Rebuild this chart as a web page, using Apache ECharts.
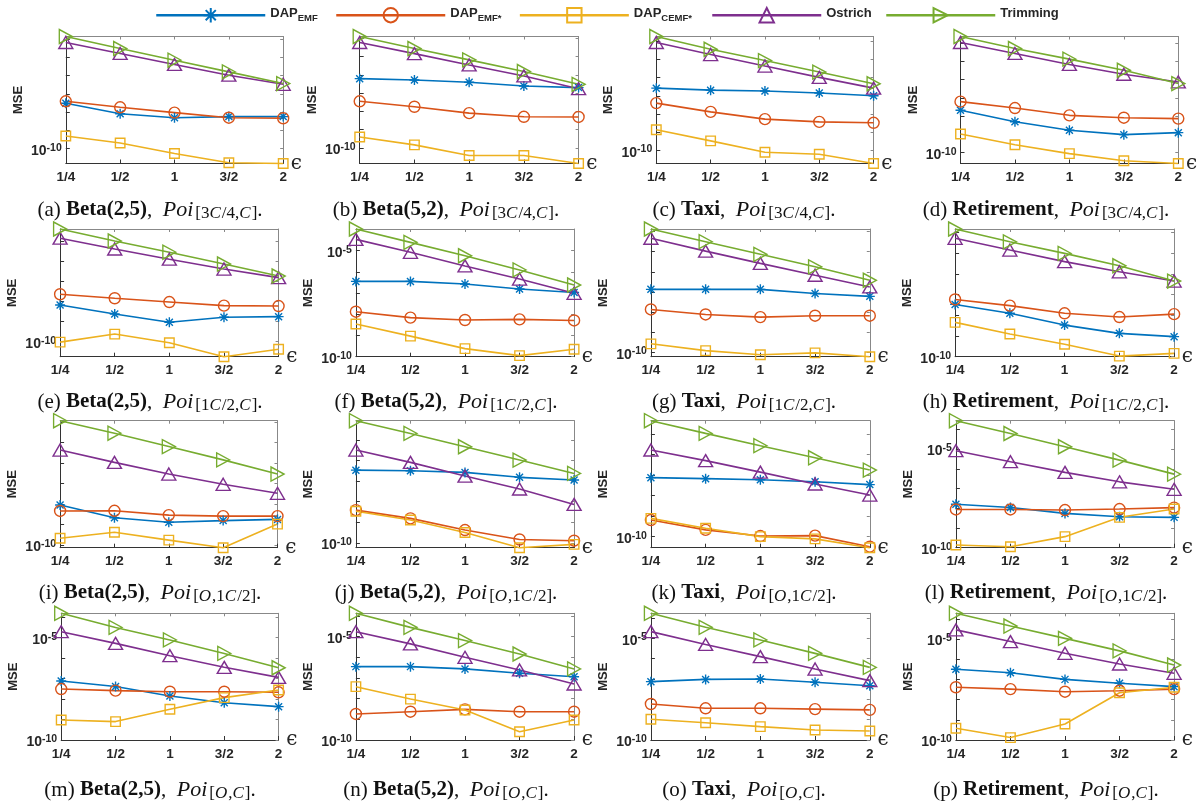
<!DOCTYPE html>
<html><head><meta charset="utf-8">
<script src="https://cdn.jsdelivr.net/npm/echarts@6/dist/echarts.min.js"></script>
<style>html,body{margin:0;padding:0;background:#fff}#c{width:1200px;height:804px}</style>
</head><body><div id="c"></div><script>
// ---------- data (log10 of MSE) ----------
const EPS = ['1/4', '1/2', '1', '3/2', '2'];
const PANEL_LETTERS = ['a','b','c','d','e','f','g','h','i','j','k','l','m','n','o','p'];
const DATASETS = ['Beta(2,5)', 'Beta(5,2)', 'Taxi', 'Retirement'];      // by column
const POI_RANGES = ['[3C/4,C]', '[1C/2,C]', '[O,1C/2]', '[O,C]'];      // by row
const SERIES_NAMES = ['DAP_EMF', 'DAP_EMF*', 'DAP_CEMF*', 'Ostrich', 'Trimming'];

const LOG_MSE_DAP_EMF = [
  [-7.51, -8.08, -8.30, -8.24, -8.24], [-6.21, -6.28, -6.41, -6.61, -6.70],
  [-6.58, -6.69, -6.74, -6.85, -7.00], [-7.67, -8.30, -8.77, -9.01, -8.90],
  [-8.17, -8.62, -9.03, -8.78, -8.75], [-6.45, -6.45, -6.57, -6.81, -6.97],
  [-6.87, -6.87, -6.87, -7.08, -7.22], [-7.47, -7.90, -8.47, -8.87, -9.03],
  [-8.05, -8.67, -8.89, -8.81, -8.75], [-6.46, -6.49, -6.57, -6.81, -6.94],
  [-7.12, -7.17, -7.22, -7.32, -7.46], [-7.80, -7.96, -8.26, -8.43, -8.46],
  [-7.12, -7.39, -7.85, -8.18, -8.37], [-6.45, -6.45, -6.56, -6.77, -6.94],
  [-7.13, -7.02, -7.00, -7.16, -7.33], [-6.50, -6.67, -7.00, -7.19, -7.36]
];
const LOG_MSE_DAP_EMF_STAR = [
  [-7.40, -7.73, -8.02, -8.30, -8.33], [-7.45, -7.75, -8.10, -8.30, -8.31],
  [-7.40, -7.88, -8.28, -8.43, -8.48], [-7.20, -7.55, -7.95, -8.08, -8.13],
  [-7.63, -7.83, -8.02, -8.20, -8.22], [-7.88, -8.16, -8.27, -8.24, -8.29],
  [-7.87, -8.12, -8.25, -8.18, -8.18], [-7.23, -7.53, -7.90, -8.08, -7.94],
  [-8.34, -8.33, -8.54, -8.59, -8.59], [-8.41, -8.81, -9.38, -9.84, -9.90],
  [-9.19, -9.67, -9.97, -9.95, -10.49], [-8.06, -8.06, -8.09, -8.04, -7.97],
  [-7.51, -7.59, -7.64, -7.64, -7.67], [-8.74, -8.63, -8.52, -8.63, -8.63],
  [-8.23, -8.44, -8.44, -8.48, -8.52], [-7.39, -7.48, -7.61, -7.56, -7.48]
];
const LOG_MSE_DAP_CEMF_STAR = [
  [-9.30, -9.69, -10.26, -10.77, -10.81], [-9.41, -9.84, -10.42, -10.42, -10.86],
  [-8.86, -9.47, -10.09, -10.20, -10.71], [-8.97, -9.56, -10.05, -10.44, -10.59],
  [-10.02, -9.62, -10.05, -10.75, -10.38], [-8.46, -9.03, -9.62, -9.95, -9.65],
  [-9.58, -9.92, -10.12, -10.03, -10.22], [-8.34, -8.90, -9.40, -9.97, -9.84],
  [-9.67, -9.38, -9.76, -10.13, -8.98], [-8.46, -8.89, -9.50, -10.24, -10.08],
  [-9.11, -9.59, -10.00, -10.11, -10.54], [-9.86, -9.95, -9.44, -8.46, -8.04],
  [-9.02, -9.10, -8.50, -7.93, -7.56], [-7.42, -8.02, -8.55, -9.60, -9.03],
  [-8.98, -9.15, -9.34, -9.51, -9.56], [-9.42, -9.88, -9.21, -7.66, -7.39]
];
const LOG_MSE_OSTRICH = [
  [-4.18, -4.78, -5.38, -5.97, -6.47], [-4.23, -4.84, -5.46, -6.06, -6.76],
  [-4.08, -4.74, -5.37, -5.99, -6.58], [-3.96, -4.56, -5.16, -5.70, -6.12],
  [-4.83, -5.37, -5.88, -6.37, -6.80], [-4.47, -5.08, -5.72, -6.34, -7.01],
  [-4.33, -4.97, -5.58, -6.17, -6.75], [-4.27, -4.84, -5.40, -5.89, -6.34],
  [-5.37, -5.97, -6.54, -7.04, -7.48], [-5.48, -6.08, -6.75, -7.38, -8.13],
  [-5.77, -6.29, -6.85, -7.43, -7.97], [-5.08, -5.64, -6.18, -6.66, -7.04],
  [-4.71, -5.28, -5.88, -6.45, -6.94], [-4.76, -5.35, -6.00, -6.61, -7.29],
  [-4.67, -5.30, -5.90, -6.51, -7.08], [-4.55, -5.13, -5.71, -6.24, -6.70]
];
const LOG_MSE_TRIMMING = [
  [-3.85, -4.51, -5.15, -5.79, -6.43], [-3.90, -4.56, -5.18, -5.82, -6.52],
  [-3.75, -4.45, -5.07, -5.70, -6.34], [-3.63, -4.29, -4.87, -5.48, -6.21],
  [-4.37, -4.97, -5.53, -6.12, -6.72], [-3.98, -4.61, -5.24, -5.91, -6.62],
  [-3.87, -4.50, -5.13, -5.75, -6.42], [-3.82, -4.44, -5.00, -5.60, -6.34],
  [-3.94, -4.55, -5.20, -5.85, -6.54], [-4.05, -4.67, -5.32, -5.97, -6.62],
  [-4.34, -4.96, -5.56, -6.15, -6.75], [-3.56, -4.21, -4.88, -5.56, -6.27],
  [-3.81, -4.50, -5.11, -5.77, -6.47], [-3.87, -4.55, -5.19, -5.84, -6.56],
  [-3.77, -4.46, -5.08, -5.74, -6.43], [-3.73, -4.36, -4.97, -5.59, -6.29]
];
// decades that carry a tick label (10^k) in each panel
const LABELED_DECADES = [
  [-10], [-10], [-10], [-10],
  [-10], [-10, -5], [-10], [-10],
  [-10], [-10], [-10], [-10, -5],
  [-10, -5], [-10, -5], [-10, -5], [-10, -5]
];
const ALL_SERIES = [LOG_MSE_DAP_EMF, LOG_MSE_DAP_EMF_STAR, LOG_MSE_DAP_CEMF_STAR, LOG_MSE_OSTRICH, LOG_MSE_TRIMMING];

// ---------- layout / style ----------
const ROW_TOP = [36.5, 229, 420.7, 613.3];
const ROW_BOTTOM = [163.5, 356.7, 547.7, 740];
const PLOT_LEFT = [[65.8, 359.7, 656.3, 960.5], [60.1, 355.9, 650.9, 955.1], [60.1, 355.9, 650.9, 955.9], [61.2, 355.9, 650.9, 955.9]];
const PLOT_RIGHT = [[283.2, 578.6, 873.6, 1178.3], [278.6, 574.1, 869.8, 1174.1], [277.5, 574.1, 869.8, 1174.1], [278.6, 574.1, 869.8, 1174.1]];
const CAPTION_X = [150, 446, 744, 1046];
const CAPTION_Y = [210, 402, 593, 790];
const LEGEND_X = [155, 335, 518.6, 711, 885];

const ASTERISK = 'path://M5 0L5 10M0 5L10 5M1.5 1.5L8.5 8.5M8.5 1.5L1.5 8.5';
const STYLES = [
  { color: '#0072BD', symbol: ASTERISK, size: 10, rotate: 0, filled: true },
  { color: '#D95319', symbol: 'circle', size: 11, rotate: 0 },
  { color: '#EDB120', symbol: 'rect', size: 9.5, rotate: 0 },
  { color: '#7E2F8E', symbol: 'triangle', size: [14, 12], rotate: 0 },
  { color: '#77AC30', symbol: 'triangle', size: [14, 13], rotate: -90 }
];
const SANS = 'Liberation Sans, Arial, sans-serif';
const SERIF = 'Liberation Serif, Times New Roman, serif';
const TXT = '#262626';

const grids = [], xAxes = [], yAxes = [], series = [], graphics = [];
for (let k = 0; k < 16; k++) {
  const r = Math.floor(k / 4), c = k % 4;
  const left = PLOT_LEFT[r][c], right = PLOT_RIGHT[r][c];
  grids.push({ left: left, top: ROW_TOP[r], width: right - left, height: ROW_BOTTOM[r] - ROW_TOP[r], containLabel: false, outerBoundsMode: 'none' });
  const vals = [].concat(...ALL_SERIES.map(s => s[k]));
  const lo = Math.min(-10, ...vals), hi = Math.max(...vals);
  const decades = [];
  for (let d = Math.ceil(lo); d <= Math.floor(hi); d++) decades.push(d);

  xAxes.push({
    gridIndex: k, type: 'category', data: EPS, boundaryGap: false, position: 'bottom',
    axisLine: { lineStyle: { color: '#333', width: 1 } },
    axisTick: { inside: true, length: 4, lineStyle: { color: '#333' } },
    axisLabel: { interval: 0, margin: 7, fontFamily: SANS, fontWeight: 'bold', fontSize: 13.5, color: TXT },
    splitLine: { show: false },
    name: '\u03F5', nameLocation: 'end', nameGap: 1,
    nameTextStyle: { fontFamily: 'DejaVu Serif, serif', fontSize: 20, color: TXT, padding: [6, 0, 0, 0] }
  });
  xAxes.push({
    gridIndex: k, type: 'category', data: EPS, boundaryGap: false, position: 'top',
    axisLine: { lineStyle: { color: '#888', width: 1 } },
    axisTick: { inside: true, length: 3, lineStyle: { color: '#888' } },
    axisLabel: { show: false }, splitLine: { show: false }
  });
  yAxes.push({
    gridIndex: k, type: 'value', position: 'left', min: lo, max: hi,
    axisLine: { show: true, lineStyle: { color: '#333', width: 1 } },
    axisTick: { show: true, inside: true, length: 4, customValues: decades, lineStyle: { color: '#333' } },
    axisLabel: {
      customValues: LABELED_DECADES[k], margin: 4, padding: [3, 0, 0, 0],
      formatter: v => '{b|10}{s|' + Math.round(v) + '}',
      rich: {
        b: { fontFamily: SANS, fontWeight: 'bold', fontSize: 14, color: TXT, lineHeight: 16, verticalAlign: 'bottom' },
        s: { fontFamily: SANS, fontWeight: 'bold', fontSize: 10.5, color: TXT, lineHeight: 7, verticalAlign: 'top' }
      }
    },
    splitLine: { show: false },
    name: 'MSE', nameLocation: 'middle', nameGap: 41, nameRotate: 90,
    nameTextStyle: { fontFamily: SANS, fontWeight: 'bold', fontSize: 13, color: TXT }
  });
  yAxes.push({
    gridIndex: k, type: 'value', position: 'right', min: lo, max: hi,
    axisLine: { show: true, lineStyle: { color: '#888', width: 1 } },
    axisTick: { show: true, inside: true, length: 3, customValues: decades, lineStyle: { color: '#888' } },
    axisLabel: { show: false }, splitLine: { show: false }
  });

  ALL_SERIES.forEach((arr, si) => {
    const st = STYLES[si];
    series.push({
      name: SERIES_NAMES[si], type: 'line', xAxisIndex: 2 * k, yAxisIndex: 2 * k,
      data: arr[k], symbol: st.symbol, symbolSize: st.size, symbolRotate: st.rotate,
      showAllSymbol: true, clip: false, silent: true, animation: false,
      lineStyle: { color: st.color, width: 1.6 },
      itemStyle: { color: st.filled ? st.color : 'rgba(0,0,0,0)', borderColor: st.color, borderWidth: 1.4 },
      emphasis: { disabled: true }
    });
  });

  // caption
  const sub = POI_RANGES[r].split('').map(ch => /[A-Z]/.test(ch) ? '{si|' + ch + '}' : '{sr|' + ch + '}').join('');
  graphics.push({
    type: 'text', x: CAPTION_X[c], y: CAPTION_Y[r], silent: true,
    style: {
      text: '{r|(' + PANEL_LETTERS[k] + ') }{b|' + DATASETS[c] + '}{r|,  }{i|Poi}' + sub + '{r|.}',
      align: 'center', verticalAlign: 'middle', textAlign: 'center', textVerticalAlign: 'middle',
      rich: {
        r: { fontFamily: SERIF, fontSize: 21, lineHeight: 24, fill: '#111', color: '#111' },
        b: { fontFamily: SERIF, fontSize: 21, fontWeight: 'bold', lineHeight: 24, fill: '#111', color: '#111' },
        i: { fontFamily: SERIF, fontSize: 22, fontStyle: 'italic', lineHeight: 24, fill: '#111', color: '#111', padding: [0, 2, 0, 0] },
        sr: { fontFamily: SERIF, fontSize: 17, lineHeight: 9, verticalAlign: 'bottom', fill: '#111', color: '#111' },
        si: { fontFamily: SERIF, fontSize: 17, fontStyle: 'italic', lineHeight: 9, verticalAlign: 'bottom', fill: '#111', color: '#111', padding: [0, 1, 0, 0] }
      }
    }
  });
}

const LEGEND_TEXT = {
  'DAP_EMF': '{m|DAP}{s|EMF}', 'DAP_EMF*': '{m|DAP}{s|EMF*}', 'DAP_CEMF*': '{m|DAP}{s|CEMF*}',
  'Ostrich': '{m|Ostrich}', 'Trimming': '{m|Trimming}'
};
const legends = SERIES_NAMES.map((n, i) => ({
  data: [n], left: LEGEND_X[i], top: 7, padding: 0, itemWidth: 109, itemHeight: 18,
  selectedMode: false,
  lineStyle: { width: 2.5 }, itemStyle: { borderWidth: 2 },
  formatter: name => LEGEND_TEXT[name],
  textStyle: {
    rich: {
      m: { fontFamily: SANS, fontWeight: 'bold', fontSize: 13, color: TXT, lineHeight: 16, verticalAlign: 'top' },
      s: { fontFamily: SANS, fontWeight: 'bold', fontSize: 9.5, color: TXT, lineHeight: 5, verticalAlign: 'bottom' }
    }
  }
}));

const chart = echarts.init(document.getElementById('c'), null, { renderer: 'canvas' });
chart.setOption({
  animation: false, backgroundColor: '#fff',
  legend: legends, grid: grids, xAxis: xAxes, yAxis: yAxes, series: series, graphic: graphics
});
</script></body></html>
